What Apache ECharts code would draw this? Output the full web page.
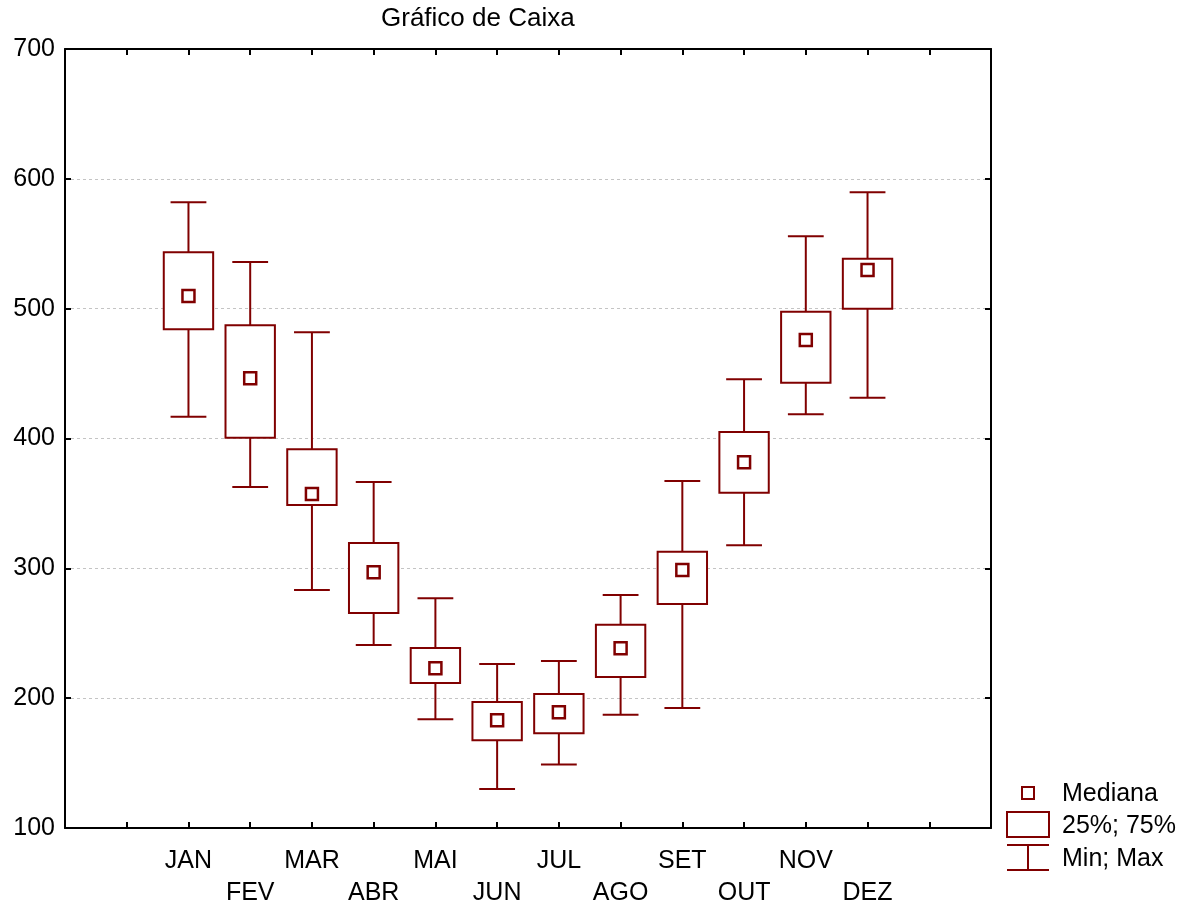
<!DOCTYPE html>
<html>
<head>
<meta charset="utf-8">
<title>Gráfico de Caixa</title>
<script src="https://cdn.jsdelivr.net/npm/echarts@6/dist/echarts.min.js"></script>
<style>
    html, body { margin: 0; padding: 0; background: #fff; }
    #chart { width: 1190px; height: 905px; }
</style>
</head>
<body>
<div id="chart"></div>
<script>
// dados
var months = ['JAN', 'FEV', 'MAR', 'ABR', 'MAI', 'JUN', 'JUL', 'AGO', 'SET', 'OUT', 'NOV', 'DEZ'];
var minVals = [416.8, 362.6, 283.3, 241.0, 183.7, 130.0, 149.0, 187.3, 192.4, 317.7, 418.6, 431.4];
var q1Vals = [484.1, 400.6, 348.8, 265.6, 211.7, 167.5, 172.9, 216.3, 272.5, 358.3, 443.0, 500.0];
var medianVals = [509.8, 446.4, 357.3, 296.9, 223.0, 182.9, 189.1, 238.4, 298.7, 381.7, 475.9, 529.8];
var q3Vals = [543.4, 487.2, 391.7, 319.5, 238.6, 197.0, 203.2, 256.6, 312.8, 405.0, 497.7, 538.5];
var maxVals = [581.9, 536.0, 481.8, 366.5, 276.9, 226.3, 228.6, 279.5, 367.3, 445.6, 555.7, 589.6];
var yTicks = [100, 200, 300, 400, 500, 600, 700];

var COLOR = '#800000';
var FONT = "'Liberation Sans', Arial, sans-serif";
var FIRST_SLOT = 2;   // JAN fica na 2a posição do eixo (0..15)

$ready();

function $ready() {
    var chart = echarts.init(document.getElementById('chart'));

    var boxData = [], whiskerData = [], medianData = [];
    for (var i = 0; i < months.length; i++) {
        var x = i + FIRST_SLOT;
        boxData.push([x, q1Vals[i], q3Vals[i]]);
        whiskerData.push([x, minVals[i], maxVals[i]]);
        medianData.push([x, medianVals[i]]);
    }

    var axisLine = {show: true, onZero: false, lineStyle: {color: '#000', width: 2}};
    var axisTick = {show: true, inside: true, length: 6, lineStyle: {color: '#000', width: 2}};

    var option = {
        animation: false,
        backgroundColor: '#fff',
        title: {
            text: 'Gráfico de Caixa',
            left: 381,
            top: 6,
            padding: 0,
            textStyle: {fontFamily: FONT, fontSize: 26, fontWeight: 'normal', color: '#000'}
        },
        grid: {left: 65, right: 199, top: 49, bottom: 77, outerBoundsMode: 'none', containLabel: false},
        xAxis: [{
            type: 'value',
            min: 0, max: 15, interval: 1,
            position: 'bottom',
            axisLine: axisLine,
            axisTick: axisTick,
            splitLine: {show: false},
            axisLabel: {
                margin: 17,
                fontFamily: FONT, fontSize: 25, color: '#000', lineHeight: 32,
                formatter: function (v) {
                    var idx = v - FIRST_SLOT;
                    if (idx < 0 || idx >= months.length) return '';
                    // meses alternados na segunda linha
                    return idx % 2 === 1 ? '\n' + months[idx] : months[idx];
                }
            }
        }, {
            type: 'value',
            min: 0, max: 15, interval: 1,
            position: 'top',
            axisLine: axisLine,
            axisTick: axisTick,
            axisLabel: {show: false},
            splitLine: {show: false}
        }],
        yAxis: [{
            type: 'value',
            position: 'left',
            min: yTicks[0], max: yTicks[yTicks.length - 1], interval: 100,
            axisLine: axisLine,
            axisTick: axisTick,
            axisLabel: {margin: 10, fontFamily: FONT, fontSize: 25, color: '#000'},
            splitLine: {show: true, lineStyle: {color: '#c4c4c4', width: 1, type: [3, 3]}}
        }, {
            type: 'value',
            position: 'right',
            min: yTicks[0], max: yTicks[yTicks.length - 1], interval: 100,
            axisLine: axisLine,
            axisTick: axisTick,
            axisLabel: {show: false},
            splitLine: {show: false}
        }],
        series: [{
            name: 'Min; Max',
            type: 'custom',
            data: whiskerData,
            encode: {x: 0, y: [1, 2]},
            renderItem: function (params, api) {
                var x = api.value(0);
                var lo = api.coord([x, api.value(1)]);
                var hi = api.coord([x, api.value(2)]);
                var half = api.size([1, 0])[0] * 0.29;
                var st = {stroke: COLOR, lineWidth: 2};
                return {
                    type: 'group',
                    children: [
                        {type: 'line', shape: {x1: lo[0], y1: lo[1], x2: hi[0], y2: hi[1]}, style: st},
                        {type: 'line', shape: {x1: lo[0] - half, y1: lo[1], x2: lo[0] + half, y2: lo[1]}, style: st},
                        {type: 'line', shape: {x1: hi[0] - half, y1: hi[1], x2: hi[0] + half, y2: hi[1]}, style: st}
                    ]
                };
            }
        }, {
            name: '25%; 75%',
            type: 'custom',
            data: boxData,
            encode: {x: 0, y: [1, 2]},
            renderItem: function (params, api) {
                var x = api.value(0);
                var lo = api.coord([x, api.value(1)]);
                var hi = api.coord([x, api.value(2)]);
                var w = api.size([1, 0])[0] * 0.8;
                return {
                    type: 'rect',
                    shape: {x: lo[0] - w / 2, y: hi[1], width: w, height: lo[1] - hi[1]},
                    style: {fill: '#fff', stroke: COLOR, lineWidth: 2}
                };
            }
        }, {
            name: 'Mediana',
            type: 'scatter',
            data: medianData,
            symbol: 'rect',
            symbolSize: 12,
            itemStyle: {color: '#fff', borderColor: COLOR, borderWidth: 2.5, opacity: 1}
        }],
        // legenda desenhada à mão, como no original
        graphic: [
            {type: 'rect', shape: {x: 1022, y: 787, width: 12, height: 12}, style: {fill: '#fff', stroke: COLOR, lineWidth: 2}},
            {type: 'rect', shape: {x: 1007, y: 812, width: 42, height: 25}, style: {fill: '#fff', stroke: COLOR, lineWidth: 2}},
            {type: 'line', shape: {x1: 1007, y1: 845, x2: 1049, y2: 845}, style: {stroke: COLOR, lineWidth: 2}},
            {type: 'line', shape: {x1: 1007, y1: 870, x2: 1049, y2: 870}, style: {stroke: COLOR, lineWidth: 2}},
            {type: 'line', shape: {x1: 1028, y1: 845, x2: 1028, y2: 870}, style: {stroke: COLOR, lineWidth: 2}},
            {type: 'text', x: 1062, y: 794, style: {text: 'Mediana', font: '25px ' + FONT, fill: '#000', verticalAlign: 'middle'}},
            {type: 'text', x: 1062, y: 826, style: {text: '25%; 75%', font: '25px ' + FONT, fill: '#000', verticalAlign: 'middle'}},
            {type: 'text', x: 1062, y: 859, style: {text: 'Min; Max', font: '25px ' + FONT, fill: '#000', verticalAlign: 'middle'}}
        ]
    };

    chart.setOption(option);
}
</script>
</body>
</html>
